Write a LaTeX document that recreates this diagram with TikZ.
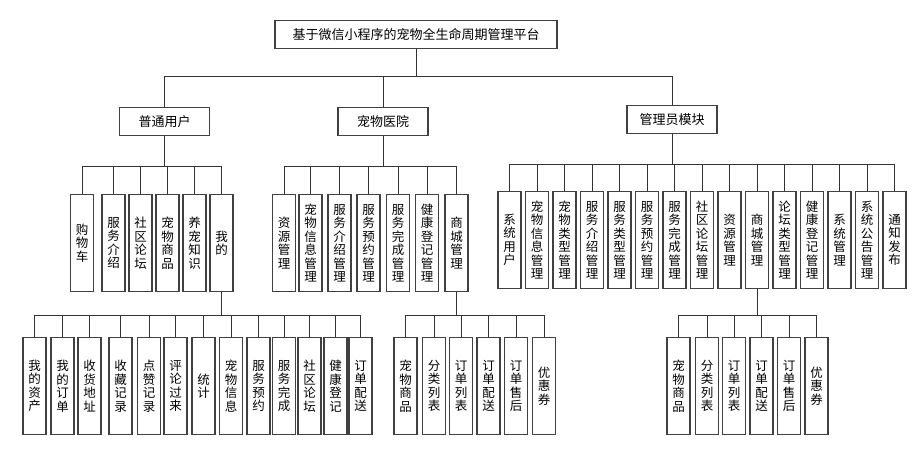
\documentclass[tikz,border=0pt]{standalone}
\usepackage{fontspec}
\setmainfont{Noto Sans CJK SC}
\begin{document}
\begin{tikzpicture}
        [x=1pt, y=-1pt,
        nodeWide/.style={rectangle, draw=black!75, line width=1.1pt, minimum height=28pt, inner sep=0pt, font=\fontsize{13}{14}\selectfont},
        nodeTall/.style={rectangle, draw=black!75, line width=1.1pt, minimum width=23pt, minimum height=97pt, inner sep=0pt, anchor=north, align=center, font=\fontsize{12.5}{13.5}\selectfont},
        link/.style={line width=0.9pt, black!80}]
        \useasboundingbox (0,0) rectangle (917,451);

        \node[nodeWide, minimum width=282pt] (R) at (416,34.5) {基于微信小程序的宠物全生命周期管理平台};
        \node[nodeWide, minimum width=90pt] (U) at (164.5,121.5) {普通用户};
        \node[nodeWide, minimum width=90pt] (H) at (383,121.5) {宠物医院};
        \node[nodeWide, minimum width=90pt] (M) at (672,119.5) {管理员模块};

        % 普通用户
        \node[nodeTall] (U1) at (82,194) {购\\物\\车};
        \node[nodeTall] (U2) at (113.5,194) {服\\务\\介\\绍};
        \node[nodeTall] (U3) at (140.5,194) {社\\区\\论\\坛};
        \node[nodeTall] (U4) at (167.5,194) {宠\\物\\商\\品};
        \node[nodeTall] (U5) at (194.5,194) {养\\宠\\知\\识};
        \node[nodeTall] (U6) at (221.5,194) {我\\的};

        % 宠物医院
        \node[nodeTall] (H1) at (284,194) {资\\源\\管\\理};
        \node[nodeTall] (H2) at (310.5,194) {宠\\物\\信\\息\\管\\理};
        \node[nodeTall] (H3) at (339.5,194) {服\\务\\介\\绍\\管\\理};
        \node[nodeTall] (H4) at (368.5,194) {服\\务\\预\\约\\管\\理};
        \node[nodeTall] (H5) at (398,194) {服\\务\\完\\成\\管\\理};
        \node[nodeTall] (H6) at (427,194) {健\\康\\登\\记\\管\\理};
        \node[nodeTall] (H7) at (456.5,194) {商\\城\\管\\理};

        % 管理员模块
        \node[nodeTall] (M1) at (509.5,191) {系\\统\\用\\户};
        \node[nodeTall] (M2) at (537,191) {宠\\物\\信\\息\\管\\理};
        \node[nodeTall] (M3) at (564.5,191) {宠\\物\\类\\型\\管\\理};
        \node[nodeTall] (M4) at (592,191) {服\\务\\介\\绍\\管\\理};
        \node[nodeTall] (M5) at (619.5,191) {服\\务\\类\\型\\管\\理};
        \node[nodeTall] (M6) at (647,191) {服\\务\\预\\约\\管\\理};
        \node[nodeTall] (M7) at (674.5,191) {服\\务\\完\\成\\管\\理};
        \node[nodeTall] (M8) at (702,191) {社\\区\\论\\坛\\管\\理};
        \node[nodeTall] (M9) at (729.5,191) {资\\源\\管\\理};
        \node[nodeTall] (M10) at (757,191) {商\\城\\管\\理};
        \node[nodeTall] (M11) at (784.5,191) {论\\坛\\类\\型\\管\\理};
        \node[nodeTall] (M12) at (812,191) {健\\康\\登\\记\\管\\理};
        \node[nodeTall] (M13) at (839.5,191) {系\\统\\管\\理};
        \node[nodeTall] (M14) at (867,191) {系\\统\\公\\告\\管\\理};
        \node[nodeTall] (M15) at (894.5,191) {通\\知\\发\\布};

        % 我的
        \node[nodeTall] (W1) at (34.5,337) {我\\的\\资\\产};
        \node[nodeTall] (W2) at (62.5,337) {我\\的\\订\\单};
        \node[nodeTall] (W3) at (89.5,337) {收\\货\\地\\址};
        \node[nodeTall] (W4) at (120.5,337) {收\\藏\\记\\录};
        \node[nodeTall] (W5) at (149,337) {点\\赞\\记\\录};
        \node[nodeTall] (W6) at (175.5,337) {评\\论\\过\\来};
        \node[nodeTall] (W7) at (203.5,337) {统\\计};
        \node[nodeTall] (W8) at (231,337) {宠\\物\\信\\息};
        \node[nodeTall] (W9) at (258.5,337) {服\\务\\预\\约};
        \node[nodeTall] (W10) at (284,337) {服\\务\\完\\成};
        \node[nodeTall] (W11) at (309.5,337) {社\\区\\论\\坛};
        \node[nodeTall] (W12) at (335.5,337) {健\\康\\登\\记};
        \node[nodeTall] (W13) at (360.5,337) {订\\单\\配\\送};

        % 商城管理 (宠物医院)
        \node[nodeTall] (S1) at (405.5,337) {宠\\物\\商\\品};
        \node[nodeTall] (S2) at (434,337) {分\\类\\列\\表};
        \node[nodeTall] (S3) at (461,337) {订\\单\\列\\表};
        \node[nodeTall] (S4) at (488.5,337) {订\\单\\配\\送};
        \node[nodeTall] (S5) at (516,337) {订\\单\\售\\后};
        \node[nodeTall] (S6) at (544,337) {优\\惠\\券};

        % 商城管理 (管理员)
        \node[nodeTall] (T1) at (678.5,337) {宠\\物\\商\\品};
        \node[nodeTall] (T2) at (707,337) {分\\类\\列\\表};
        \node[nodeTall] (T3) at (734,337) {订\\单\\列\\表};
        \node[nodeTall] (T4) at (761.5,337) {订\\单\\配\\送};
        \node[nodeTall] (T5) at (789,337) {订\\单\\售\\后};
        \node[nodeTall] (T6) at (816.5,337) {优\\惠\\券};

        \coordinate (rBus) at (416,76);
        \coordinate (uBus) at (164.5,166);
        \coordinate (hBus) at (383,166);
        \coordinate (mBus) at (672,164);
        \coordinate (wBus) at (221.5,315);
        \coordinate (sBus) at (456.5,315);
        \coordinate (tBus) at (757,315);

        \draw[link] (R) -- (rBus);
        \draw[link] (rBus) -| (U);
        \draw[link] (rBus) -| (H);
        \draw[link] (rBus) -| (M);

        \draw[link] (U) -- (uBus);
        \draw[link] (uBus) -| (U1) (uBus) -| (U2) (uBus) -| (U3) (uBus) -| (U4) (uBus) -| (U5) (uBus) -| (U6);

        \draw[link] (H) -- (hBus);
        \draw[link] (hBus) -| (H1) (hBus) -| (H2) (hBus) -| (H3) (hBus) -| (H4) (hBus) -| (H5) (hBus) -| (H6) (hBus) -| (H7);

        \draw[link] (M) -- (mBus);
        \draw[link] (mBus) -| (M1) (mBus) -| (M2) (mBus) -| (M3) (mBus) -| (M4) (mBus) -| (M5);
        \draw[link] (mBus) -| (M6) (mBus) -| (M7) (mBus) -| (M8) (mBus) -| (M9) (mBus) -| (M10);
        \draw[link] (mBus) -| (M11) (mBus) -| (M12) (mBus) -| (M13) (mBus) -| (M14) (mBus) -| (M15);

        \draw[link] (U6) -- (wBus);
        \draw[link] (wBus) -| (W1) (wBus) -| (W2) (wBus) -| (W3) (wBus) -| (W4) (wBus) -| (W5) (wBus) -| (W6) (wBus) -| (W7);
        \draw[link] (wBus) -| (W8) (wBus) -| (W9) (wBus) -| (W10) (wBus) -| (W11) (wBus) -| (W12) (wBus) -| (W13);

        \draw[link] (H7) -- (sBus);
        \draw[link] (sBus) -| (S1) (sBus) -| (S2) (sBus) -| (S3) (sBus) -| (S4) (sBus) -| (S5) (sBus) -| (S6);

        \draw[link] (M10) -- (tBus);
        \draw[link] (tBus) -| (T1) (tBus) -| (T2) (tBus) -| (T3) (tBus) -| (T4) (tBus) -| (T5) (tBus) -| (T6);

    \end{tikzpicture}
\end{document}
